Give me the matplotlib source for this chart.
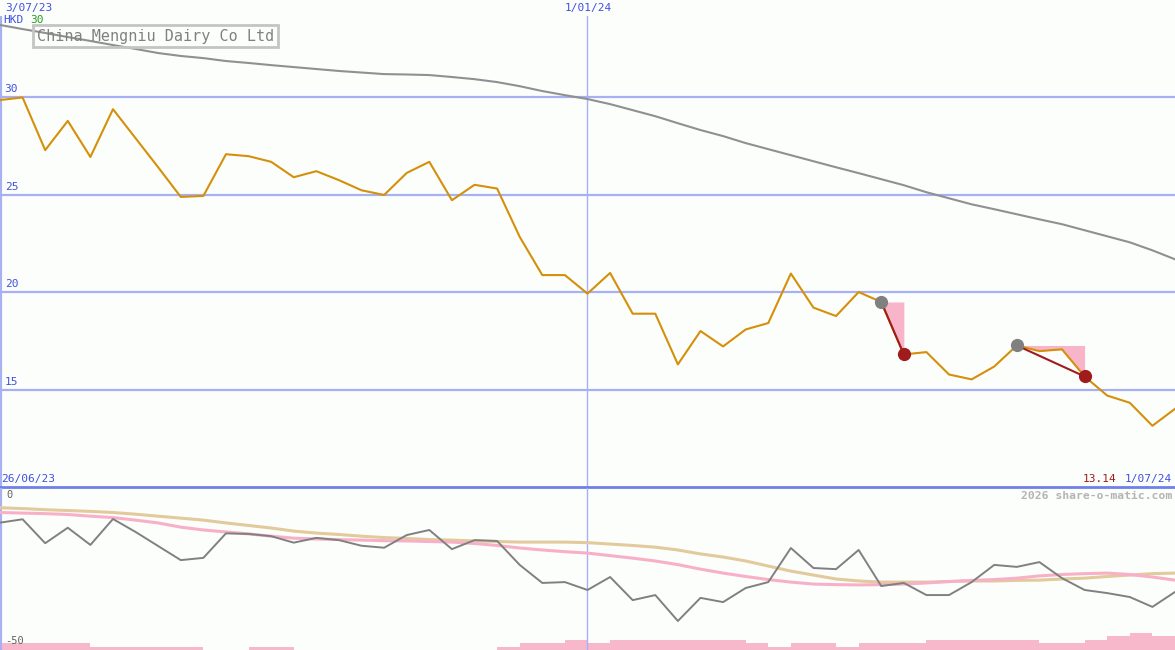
import pandas as pd
import matplotlib.pyplot as plt
import matplotlib.transforms as mtransforms

# weekly closes, HKD
dates = pd.date_range('2023-07-03', periods=53, freq='W-MON')
price = [29.85, 29.98, 27.28, 28.78, 26.93, 29.38, 27.89, 26.40, 24.88, 24.93,
         27.07, 26.97, 26.68, 25.89, 26.20, 25.74, 25.22, 24.98, 26.11, 26.68,
         24.71, 25.50, 25.31, 22.83, 20.87, 20.87, 19.92, 20.98, 18.89, 18.89,
         16.29, 18.00, 17.21, 18.08, 18.41, 20.95, 19.20, 18.77, 20.00, 19.49,
         16.80, 16.92, 15.77, 15.52, 16.18, 17.26, 16.97, 17.06, 15.67, 14.69,
         14.32, 13.14, 14.01]
# long moving average
ma_long = [33.70, 33.49, 33.29, 33.08, 32.88, 32.67, 32.47, 32.26, 32.11, 32.00,
           31.85, 31.75, 31.64, 31.54, 31.44, 31.34, 31.26, 31.18, 31.16, 31.13,
           31.03, 30.92, 30.77, 30.56, 30.31, 30.10, 29.90, 29.64, 29.33, 29.02,
           28.66, 28.31, 28.00, 27.64, 27.33, 27.02, 26.71, 26.40, 26.10, 25.79,
           25.48, 25.12, 24.81, 24.50, 24.25, 23.99, 23.73, 23.48, 23.17, 22.86,
           22.55, 22.14, 21.68]

# lower panel: relative performance (%) and its averages
rel = [-7.3, -6.1, -14.6, -9.1, -15.2, -6.0, -10.6, -15.6, -20.6, -19.8,
       -11.1, -11.3, -12.1, -14.4, -12.7, -13.5, -15.5, -16.2, -11.7, -9.9,
       -16.7, -13.5, -13.8, -22.3, -28.7, -28.4, -31.2, -26.6, -34.8, -33.0,
       -42.2, -34.0, -35.5, -30.5, -28.4, -16.3, -23.4, -23.8, -17.0, -29.8,
       -28.7, -33.0, -33.0, -28.4, -22.3, -23.0, -21.3, -27.0, -31.2, -32.3,
       -33.7, -37.2, -31.9]
rel_slow = [-2.0, -2.3, -2.7, -3.0, -3.3, -3.7, -4.3, -5.0, -5.7, -6.4,
            -7.4, -8.3, -9.2, -10.3, -11.0, -11.5, -12.1, -12.6, -12.9, -13.3,
            -13.5, -13.8, -14.0, -14.2, -14.2, -14.2, -14.4, -14.9, -15.4, -16.0,
            -17.0, -18.4, -19.5, -20.9, -22.7, -24.5, -25.9, -27.3, -28.0, -28.4,
            -28.4, -28.4, -28.2, -28.0, -28.0, -27.8, -27.7, -27.3, -27.0, -26.4,
            -25.9, -25.4, -25.2]
rel_fast = [-3.7, -3.9, -4.1, -4.4, -5.0, -5.5, -6.4, -7.4, -8.9, -9.9,
            -10.6, -11.3, -12.1, -12.8, -13.1, -13.3, -13.5, -13.7, -13.8, -14.0,
            -14.2, -14.7, -15.4, -16.3, -17.0, -17.6, -18.1, -19.0, -19.9, -20.9,
            -22.2, -23.8, -25.2, -26.4, -27.5, -28.4, -29.1, -29.3, -29.4, -29.3,
            -29.1, -28.7, -28.2, -27.8, -27.5, -27.0, -26.2, -25.7, -25.4, -25.2,
            -25.7, -26.6, -27.7]
volume = [20, 20, 20, 20, 10, 10, 10, 10, 10, 0, 0, 10, 10, 0, 0, 0, 0, 0, 0, 0,
          0, 0, 10, 20, 20, 30, 20, 30, 30, 30, 30, 30, 30, 20, 10, 20, 20, 10, 20, 20,
          20, 30, 30, 30, 30, 30, 20, 20, 30, 40, 50, 40]

# signals: (entry index, exit index)
signals = [(39, 40), (45, 48)]

bg = '#fcfefc'
grid_c = '#a8b0f4'
blue_txt = '#4050e0'
plt.rcParams['font.family'] = ['DejaVu Sans Mono']

W, H = 1175, 650
fig = plt.figure(figsize=(W / 100, H / 100), dpi=100, facecolor=bg)

def px(x, y):
    return x / W, 1 - y / H

# upper price panel
ax1 = fig.add_axes([0, 1 - 487 / H, 1, 471 / H], facecolor=bg)
ax1.set_xlim(dates[0], dates[-1])
ax1.set_ylim(10, 34.16)
for v in [15, 20, 25, 30]:
    ax1.axhline(v, color=grid_c, lw=1.6, zorder=1)
    ax1.text(0.004, v + 0.15, str(v), color=blue_txt, fontsize=8,
             transform=mtransforms.blended_transform_factory(ax1.transAxes, ax1.transData),
             va='bottom', ha='left')
ax1.axvline(dates[26], color=grid_c, lw=1, zorder=1)
ax1.axvline(dates[0], color=grid_c, lw=3, zorder=1)
ax1.plot(dates, ma_long, color='#909090', lw=1.5, zorder=2)
ax1.plot(dates, price, color='#d4900a', lw=1.5, zorder=3)

for a, b in signals:
    ax1.fill_between(dates[a:b + 1], price[a], price[a:b + 1], color='#f8b4c8', lw=0, zorder=2)
    ax1.plot([dates[a], dates[b]], [price[a], price[b]], color='#a01c1c', lw=1.5, zorder=3)
    ax1.plot(dates[a], price[a], 'o', color='#808080', ms=8.5, zorder=4)
    ax1.plot(dates[b], price[b], 'o', color='#a01c1c', ms=8.5, zorder=4)

for s in ax1.spines.values():
    s.set_visible(False)
ax1.spines['bottom'].set_visible(True)
ax1.spines['bottom'].set_color('#7080e8')
ax1.spines['bottom'].set_linewidth(2)
ax1.set_xticks([])
ax1.set_yticks([])

# lower panel
ax2 = fig.add_axes([0, 0, 1, 162 / H], facecolor=bg)
ax2.set_xlim(dates[0], dates[-1])
ax2.set_ylim(-52.5, 5)
ax3 = ax2.twinx()
ax3.bar(dates[:-1], volume, width=7, align='edge', color='#f8b8cc', lw=0)
ax3.set_ylim(0, 470)
ax3.set_yticks([])
ax2.set_zorder(ax3.get_zorder() + 1)
ax2.patch.set_visible(False)
ax3.set_facecolor(bg)
ax2.axvline(dates[26], color=grid_c, lw=1, zorder=1)
ax2.axvline(dates[0], color=grid_c, lw=3, zorder=1)
ax2.plot(dates, rel_slow, color='#e2ca9c', lw=2.2, zorder=2)
ax2.plot(dates, rel_fast, color='#f8b0c8', lw=2.2, zorder=2)
ax2.plot(dates, rel, color='#808080', lw=1.4, zorder=3)
for a in (ax2, ax3):
    for s in a.spines.values():
        s.set_visible(False)
    a.set_xticks([])
ax2.set_yticks([])

# labels
fig.text(*px(5, 8), '3/07/23', color=blue_txt, fontsize=8, va='center', ha='left')
fig.text(*px(588, 8), '1/01/24', color=blue_txt, fontsize=8, va='center', ha='center')
fig.text(*px(3, 20), 'HKD', color=blue_txt, fontsize=8, va='center', ha='left')
fig.text(*px(30, 20), '30', color='#20a020', fontsize=8, va='center', ha='left')
fig.text(*px(37, 36), 'China Mengniu Dairy Co Ltd', color='#808080', fontsize=10.9,
         va='center', ha='left',
         bbox=dict(facecolor='none', edgecolor='#c4c4c4', lw=2, boxstyle='square,pad=0.25'))
fig.text(*px(1, 479), '26/06/23', color=blue_txt, fontsize=8, va='center', ha='left')
fig.text(*px(1116, 479), '%.2f' % min(price), color='#a01c1c', fontsize=8, va='center', ha='right')
fig.text(*px(1172, 479), '1/07/24', color=blue_txt, fontsize=8, va='center', ha='right')
fig.text(*px(1172, 496), '2026 share-o-matic.com', color='#b4b4b4', fontsize=8.2,
         fontweight='bold', va='center', ha='right')
fig.text(*px(6, 495), '0', color='#606060', fontsize=7.5, va='center', ha='left')
fig.text(*px(5, 641), '-50', color='#606060', fontsize=7.5, va='center', ha='left')

fig.savefig('out.png', dpi=100, facecolor=bg)
